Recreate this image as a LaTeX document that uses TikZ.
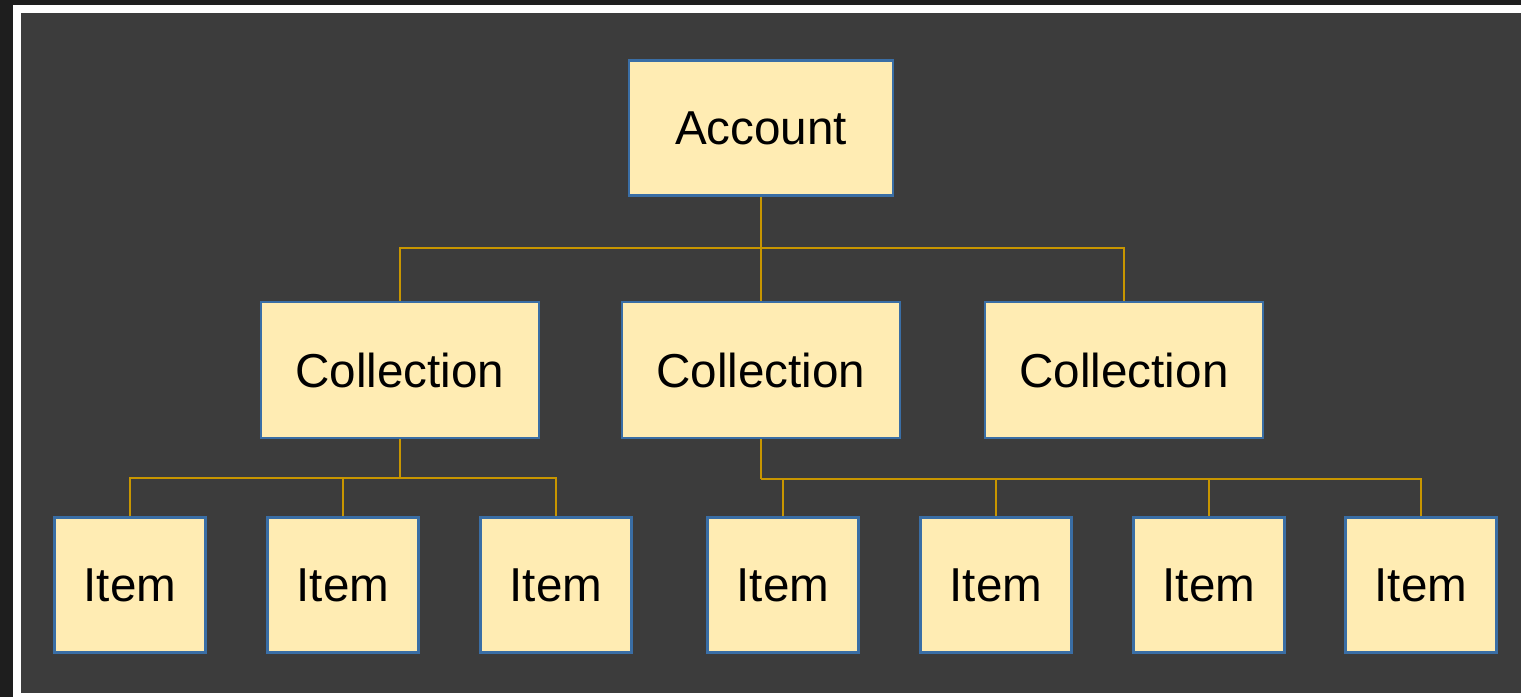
\documentclass[tikz,border=0pt]{standalone}
\usepackage{fontspec}
\setmainfont{Liberation Sans}
\usetikzlibrary{positioning}
\definecolor{outerbg}{HTML}{1E1E1E}
\definecolor{panel}{HTML}{3C3C3C}
\definecolor{boxfill}{HTML}{FFECB3}
\definecolor{boxline}{HTML}{3A6EA5}
\definecolor{link}{HTML}{C89600}

\begin{document}
\begin{tikzpicture}[x=0.5pt,y=-0.5pt,
  every node/.style={draw=boxline,line width=1.1pt,fill=boxfill,inner sep=0pt,align=center,font=\fontsize{23.8}{28}\selectfont},
  topbox/.style={minimum width=132pt,minimum height=67.5pt},
  colbox/.style={minimum width=139pt,minimum height=68pt},
  itembox/.style={minimum width=75.5pt,minimum height=67.5pt},
  wire/.style={draw=link,line width=1pt}]
% frame
\fill[outerbg] (0,0) rectangle (1521,697);
\fill[white] (13,5) rectangle (1521,697);
\fill[panel] (21,13) rectangle (1521,693);
\useasboundingbox (0,0) rectangle (1521,697);
% nodes
\node[topbox] (acc) at (761,128) {\raisebox{-1pt}{Account}};
\node[colbox] (col1) at (400,370) {\raisebox{-1pt}{Collection}};
\node[colbox] (col2) at (761,370) {\raisebox{-1pt}{Collection}};
\node[colbox] (col3) at (1124,370) {\raisebox{-1pt}{Collection}};
\foreach \n/\x in {1/130,2/343,3/556,4/783,5/996,6/1209,7/1421}
  \node[itembox] (item\n) at (\x,585) {\raisebox{-1pt}{Item}};
% connectors
\coordinate (busa) at (761,248);
\coordinate (busb) at (400,478);
\coordinate (busc) at (761,479);
\draw[wire] (acc.south) -- (busa);
\foreach \c in {col1,col2,col3} \draw[wire] (\c.north) |- (busa);
\draw[wire] (col1.south) -- (busb);
\foreach \i in {item1,item2,item3} \draw[wire] (\i.north) |- (busb);
\draw[wire] (col2.south) -- (busc);
\foreach \i in {item4,item5,item6,item7} \draw[wire] (\i.north) |- (busc);
\end{tikzpicture}
\end{document}
